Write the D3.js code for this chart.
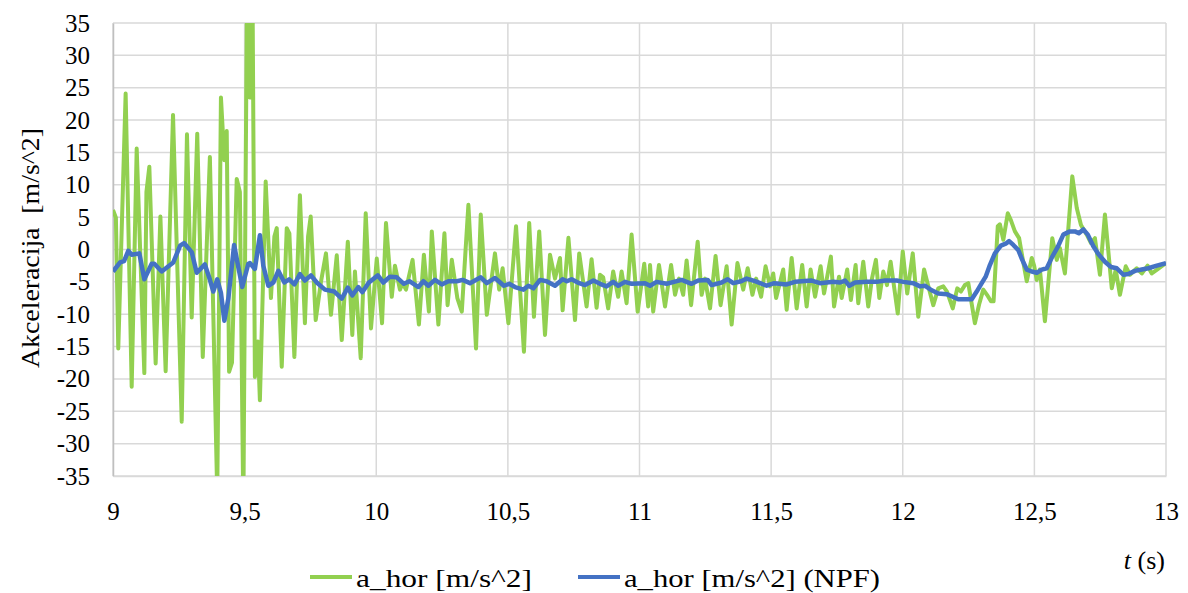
<!DOCTYPE html>
<html><head><meta charset="utf-8">
<script src="https://cdn.jsdelivr.net/npm/d3@7"></script>
<style>body{margin:0;background:#fff}svg{display:block}
svg text{font-family:"Liberation Serif","Times New Roman","DejaVu Serif",serif;}</style>
</head><body><svg id="c" width="1188" height="593"></svg>
<script>
// ---- data ----
const tGreen = [9.000,9.011,9.020,9.048,9.071,9.090,9.119,9.127,9.138,9.162,9.180,9.200,9.228,9.261,9.281,9.299,9.320,9.341,9.368,9.396,9.410,9.423,9.432,9.441,9.452,9.470,9.482,9.495,9.509,9.520,9.530,9.539,9.550,9.558,9.580,9.600,9.613,9.622,9.641,9.660,9.670,9.689,9.710,9.729,9.741,9.751,9.770,9.790,9.809,9.828,9.850,9.869,9.892,9.909,9.919,9.941,9.960,9.980,10.002,10.022,10.037,10.059,10.071,10.090,10.100,10.113,10.138,10.162,10.181,10.200,10.211,10.236,10.259,10.271,10.287,10.308,10.325,10.337,10.350,10.379,10.397,10.420,10.451,10.467,10.480,10.502,10.531,10.561,10.581,10.599,10.619,10.641,10.660,10.679,10.698,10.708,10.730,10.755,10.771,10.799,10.818,10.837,10.850,10.862,10.881,10.900,10.919,10.932,10.951,10.970,10.993,11.018,11.033,11.040,11.052,11.074,11.097,11.120,11.135,11.150,11.166,11.179,11.196,11.221,11.236,11.249,11.268,11.289,11.308,11.331,11.350,11.372,11.394,11.411,11.429,11.443,11.462,11.479,11.496,11.508,11.519,11.546,11.559,11.578,11.597,11.618,11.635,11.650,11.667,11.688,11.701,11.727,11.739,11.758,11.768,11.789,11.803,11.821,11.831,11.850,11.869,11.883,11.898,11.911,11.926,11.940,11.954,11.981,12.000,12.017,12.038,12.059,12.081,12.096,12.116,12.135,12.154,12.168,12.190,12.207,12.221,12.236,12.249,12.274,12.290,12.306,12.320,12.335,12.345,12.361,12.369,12.382,12.399,12.411,12.426,12.442,12.454,12.471,12.490,12.499,12.509,12.521,12.540,12.568,12.585,12.597,12.616,12.644,12.661,12.677,12.699,12.715,12.730,12.749,12.768,12.794,12.809,12.825,12.847,12.863,12.889,12.908,12.930,12.946,12.970,13.000];
const aGreen = [6.1,4.9,-15.3,24.1,-21.2,15.6,-19.1,8.9,12.8,-17.6,5.1,-18.8,20.8,-26.6,17.8,-10.5,17.9,-16.6,14.3,-38,23.5,13.8,18.3,-18.9,-17.5,10.9,8.9,-40,40,23.5,40,-19.7,-14.2,-23.3,10.5,-7.5,2.0,3.3,-18.1,3.3,2.5,-16.6,8.4,-11.4,2.0,5.1,-10.9,-5,-0.6,-10.1,-0.9,-14,1.2,-13.2,-3.4,-16.8,5.6,-12.2,-1.4,-11.4,4.1,-7.3,-2.5,-6.2,-5.2,-6.2,-1.6,-11.6,-0.8,-9.6,2.8,-11.6,2.5,-8.6,-1.6,-7.5,-9.6,-1.6,6.9,-15.3,5.4,-10.1,-0.6,-6.2,-2.9,-11.4,3.6,-15.8,4.1,-10.4,2.8,-13.2,-0.8,-4.5,-1.3,-9.4,1.8,-10.9,-0.6,-8.8,-1.5,-9.0,-3.9,-4.3,-9.1,-3.4,-7.3,-3.4,-8.3,2.3,-9.6,-2.2,-8.8,-2.4,-9.6,-2.4,-8.8,-2.4,-7.0,-4.5,-7.0,-1.7,-8.6,1.2,-7.0,-4.5,-9.1,-1.0,-8.6,-2.6,-11.6,-2.1,-6.2,-2.9,-7.0,-4.5,-7.3,-2.6,-5.7,-3.7,-7.5,-3.1,-9.3,-1.3,-9.1,-2.4,-8.8,-3.1,-7.3,-2.6,-6.8,-1.1,-8.8,-4.2,-7.5,-3.1,-7.8,-2.4,-8.3,-1.9,-8.8,-4.5,-1.6,-7.5,-3.4,-5.5,-1.9,-9.9,-0.3,-6.8,-0.6,-10.4,-3.1,-5.5,-8.6,-6.0,-5.7,-6.5,-9.1,-6.0,-6.5,-5.5,-5.2,-11.4,-8.5,-6.2,-7.0,-8.0,-8.0,3.6,3.9,1.5,5.6,4.5,2.8,1.75,-1.1,-4.9,-1.3,-2.5,-4.7,-3.1,-11.1,1.75,-1.6,0.2,-3.7,11.3,6.4,3.8,2.3,1.0,1.75,-3.9,5.4,-6.0,-3.1,-7.0,-2.6,-3.9,-2.9,-3.7,-2.5,-3.7,-3.0,-2.1];
const tBlue = [9.000,9.027,9.042,9.058,9.071,9.100,9.119,9.147,9.157,9.185,9.229,9.255,9.270,9.299,9.318,9.349,9.366,9.381,9.396,9.410,9.423,9.438,9.460,9.476,9.491,9.514,9.520,9.539,9.558,9.571,9.590,9.609,9.628,9.651,9.669,9.689,9.710,9.729,9.752,9.774,9.805,9.841,9.869,9.892,9.909,9.932,9.947,9.972,10.006,10.027,10.052,10.078,10.105,10.126,10.160,10.179,10.198,10.223,10.249,10.274,10.306,10.328,10.356,10.397,10.420,10.451,10.485,10.505,10.527,10.559,10.578,10.597,10.622,10.647,10.679,10.708,10.724,10.742,10.771,10.793,10.825,10.850,10.875,10.900,10.919,10.945,10.970,11.021,11.040,11.065,11.103,11.160,11.198,11.223,11.259,11.274,11.312,11.335,11.356,11.386,11.407,11.439,11.483,11.512,11.559,11.591,11.654,11.686,11.736,11.762,11.781,11.797,11.819,11.863,11.901,11.933,11.977,12.002,12.040,12.066,12.084,12.110,12.135,12.167,12.190,12.211,12.262,12.281,12.300,12.315,12.331,12.350,12.373,12.391,12.404,12.420,12.439,12.454,12.471,12.490,12.509,12.528,12.547,12.568,12.589,12.610,12.635,12.654,12.669,12.686,12.703,12.724,12.743,12.768,12.791,12.813,12.838,12.857,12.882,12.908,12.933,12.965,13.000];
const aBlue = [-3.4,-2.0,-1.8,-0.2,-0.8,-0.6,-4.6,-2.2,-2.2,-3.4,-2.0,0.6,1.0,-0.4,-3.6,-2.3,-4.4,-6.5,-4.6,-6.7,-11.0,-7.6,0.7,-2.7,-5.8,-2.2,-2.1,-3.0,2.2,-2.5,-5.6,-5.1,-3.3,-5.1,-4.6,-5.4,-3.8,-4.8,-4.0,-5.1,-6.2,-6.5,-7.6,-5.9,-7.1,-5.8,-6.6,-5.1,-4.0,-5.1,-4.2,-4.3,-5.3,-4.9,-5.8,-4.9,-5.6,-4.7,-5.4,-4.9,-4.9,-4.7,-5.2,-4.3,-5.2,-4.4,-5.6,-5.3,-5.8,-6.2,-5.6,-6.0,-4.7,-4.9,-5.6,-4.6,-4.9,-4.6,-5.2,-5.5,-4.8,-5.3,-5.7,-5.0,-5.6,-5.0,-5.3,-5.2,-5.6,-5.0,-5.3,-4.7,-5.3,-4.8,-4.7,-5.5,-5.1,-4.6,-5.2,-4.9,-4.5,-4.9,-5.6,-5.2,-5.4,-5.0,-4.8,-5.2,-5.0,-5.1,-4.8,-5.6,-5.1,-5.0,-5.0,-4.8,-4.8,-5.0,-5.2,-5.7,-5.6,-6.3,-6.8,-6.9,-7.3,-7.7,-7.7,-6.5,-5.2,-4.2,-2.4,-0.6,0.6,0.9,1.3,0.7,-0.1,-1.6,-3.1,-3.4,-3.6,-3.1,-2.9,-1.1,0.4,2.3,2.8,2.8,2.5,3.1,2.3,0.5,-0.7,-1.9,-2.7,-2.9,-3.9,-3.8,-3.3,-3.1,-2.9,-2.5,-2.1];
const xTicks = [9, 9.5, 10, 10.5, 11, 11.5, 12, 12.5, 13];
const xTickLabels = ["9", "9,5", "10", "10,5", "11", "11,5", "12", "12,5", "13"];
const yTicks = [-35,-30,-25,-20,-15,-10,-5,0,5,10,15,20,25,30,35];
const seriesNames = ["a_hor [m/s^2]", "a_hor [m/s^2] (NPF)"];
const seriesColors = ["#92D050", "#4472C4"];
const yTitle = "Akceleracija  [m/s^2]";

// ---- layout ----
const svg = d3.select("#c");
const L = 113, R = 1166, T = 23, B = 476;
const x = d3.scaleLinear().domain([9, 13]).range([L, R]);
const y = d3.scaleLinear().domain([-35, 35]).range([B, T]);
const FS = 25;

svg.append("defs").append("clipPath").attr("id", "clip")
  .append("rect").attr("x", L).attr("y", T).attr("width", R - L).attr("height", B - T);

// grid
svg.append("g").selectAll("line").data(yTicks).join("line")
  .attr("x1", L).attr("x2", R).attr("y1", d => y(d)).attr("y2", d => y(d))
  .attr("stroke", "#d9d9d9").attr("stroke-width", 1.5);
svg.append("g").selectAll("line").data(xTicks).join("line")
  .attr("y1", T).attr("y2", B).attr("x1", d => x(d)).attr("x2", d => x(d))
  .attr("stroke", "#d9d9d9").attr("stroke-width", 1.5);

// axes (labels only)
const yAxis = d3.axisLeft(y).tickValues(yTicks).tickSize(0).tickPadding(23).tickFormat(d => String(d));
const gy = svg.append("g").attr("transform", `translate(${L},0)`).call(yAxis);
gy.attr("font-family", null);
gy.select(".domain").attr("stroke", "#bfbfbf").attr("stroke-width", 1.5);
gy.selectAll("text").attr("font-size", FS).attr("fill", "#000");

const xAxis = d3.axisBottom(x).tickValues(xTicks).tickSize(0).tickPadding(26).tickFormat((d, i) => xTickLabels[i]);
const gx = svg.append("g").attr("transform", `translate(0,${B})`).call(xAxis);
gx.attr("font-family", null);
gx.select(".domain").attr("stroke", "#d9d9d9").attr("stroke-width", 1.5);
gx.selectAll("text").attr("font-size", FS).attr("fill", "#000");

// lines
const line = d3.line().x(d => x(d[0])).y(d => y(d[1]));
const plot = svg.append("g").attr("clip-path", "url(#clip)");
plot.append("path").datum(tGreen.map((t, i) => [t, aGreen[i]]))
  .attr("d", line).attr("fill", "none").attr("stroke", seriesColors[0])
  .attr("stroke-width", 4).attr("stroke-linejoin", "round");
plot.append("path").datum(tBlue.map((t, i) => [t, aBlue[i]]))
  .attr("d", line).attr("fill", "none").attr("stroke", seriesColors[1])
  .attr("stroke-width", 4.5).attr("stroke-linejoin", "round");

// titles
svg.append("text").attr("transform", "translate(39,248) rotate(-90)")
  .attr("text-anchor", "middle").attr("font-size", 26)
  .attr("textLength", 240).attr("lengthAdjust", "spacingAndGlyphs")
  .style("white-space", "pre").text(yTitle);
const tt = svg.append("text").attr("x", 1165).attr("y", 569).attr("text-anchor", "end")
  .attr("font-size", 26);
tt.append("tspan").attr("font-style", "italic").text("t");
tt.append("tspan").text(" (s)");

// legend
const leg = [{x: 310, tx: 356, w: 176}, {x: 578, tx: 624, w: 256}];
seriesNames.forEach((n, i) => {
  svg.append("line").attr("x1", leg[i].x).attr("x2", leg[i].x + 42).attr("y1", 577).attr("y2", 577)
    .attr("stroke", seriesColors[i]).attr("stroke-width", 4);
  svg.append("text").attr("x", leg[i].tx).attr("y", 587).attr("font-size", 26)
    .attr("textLength", leg[i].w).attr("lengthAdjust", "spacingAndGlyphs").text(n);
});
</script></body></html>
